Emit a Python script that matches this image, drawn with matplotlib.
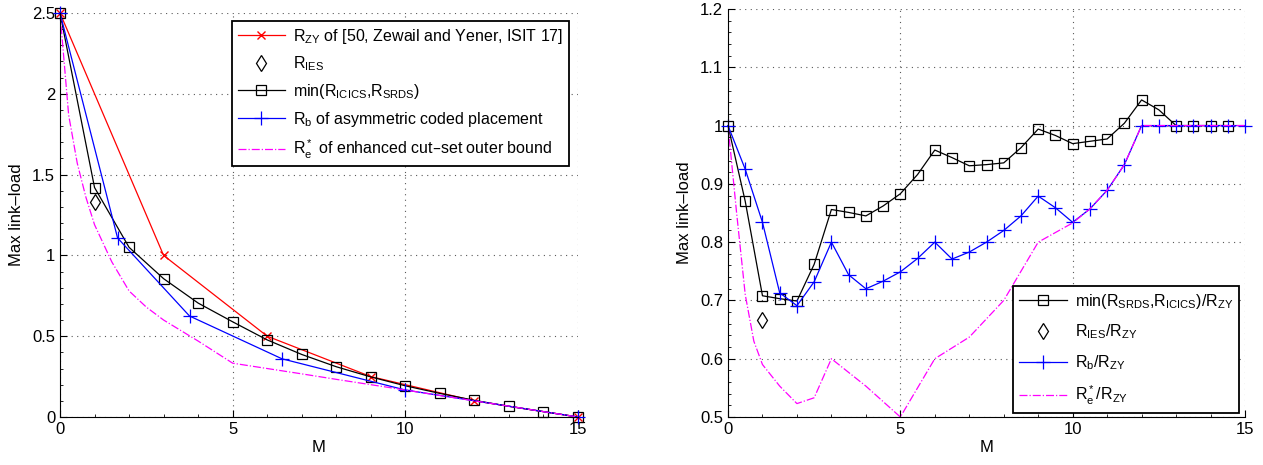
import matplotlib
matplotlib.use('Agg')
import matplotlib.pyplot as plt
from matplotlib.ticker import MultipleLocator, FuncFormatter

plt.rcParams['font.family'] = ['Liberation Sans', 'DejaVu Sans']
plt.rcParams['mathtext.default'] = 'regular'
plt.rcParams['font.size'] = 12

# left panel: max link-load
zy_x = [0, 3, 6, 9, 12, 15]
zy_y = [2.5, 1.0, 0.5, 0.25, 0.1, 0]
ies_x = [1]
ies_y = [1.333]
min_x = [0, 1, 2, 3, 4, 5, 6, 7, 8, 9, 10, 11, 12, 13, 14, 15]
min_y = [2.5, 1.42, 1.05, 0.856, 0.705, 0.589, 0.477, 0.387, 0.311, 0.248,
         0.193, 0.146, 0.103, 0.066, 0.033, 0]
b_x = [0, 1.667, 3.75, 6.43, 10, 15]
b_y = [2.5, 1.108, 0.625, 0.36, 0.167, 0]
e_x = [0, 0.25, 0.5, 0.75, 1, 1.5, 2, 2.5, 3, 4, 5, 6, 7, 8, 9, 10, 11, 12, 13, 14, 15]
e_y = [2.5, 1.87, 1.57, 1.36, 1.19, 0.96, 0.78, 0.68, 0.6, 0.47, 0.333, 0.3,
       0.267, 0.233, 0.2, 0.167, 0.133, 0.1, 0.067, 0.033, 0]

# right panel: ratios to R_ZY
rmin_x = [0, 0.5, 1, 1.5, 2, 2.5, 3, 3.5, 4, 4.5, 5, 5.5, 6, 6.5, 7, 7.5, 8, 8.5,
          9, 9.5, 10, 10.5, 11, 11.5, 12, 12.5, 13, 13.5, 14, 14.5]
rmin_y = [1.0, 0.870, 0.708, 0.703, 0.699, 0.762, 0.856, 0.851, 0.845, 0.862,
          0.883, 0.916, 0.958, 0.945, 0.931, 0.933, 0.936, 0.962, 0.994, 0.983,
          0.969, 0.973, 0.977, 1.004, 1.044, 1.027, 1.0, 1.0, 1.0, 1.0]
ries_x = [1]
ries_y = [0.667]
rb_x = [0, 0.5, 1, 1.5, 2, 2.5, 3, 3.5, 4, 4.5, 5, 5.5, 6, 6.5, 7, 7.5, 8, 8.5,
        9, 9.5, 10, 10.5, 11, 11.5, 12, 12.5, 13, 13.5, 14, 14.5, 15]
rb_y = [1.0, 0.925, 0.834, 0.713, 0.691, 0.732, 0.8, 0.744, 0.72, 0.733, 0.749,
        0.772, 0.8, 0.771, 0.783, 0.8, 0.82, 0.845, 0.879, 0.859, 0.834, 0.857,
        0.889, 0.933, 1.0, 1.0, 1.0, 1.0, 1.0, 1.0, 1.0]
re_x = [0, 0.25, 0.5, 0.75, 1, 1.5, 2, 2.5, 3, 4, 5, 6, 7, 8, 9, 10, 10.5, 11,
        11.5, 12, 13, 14, 15]
re_y = [1.0, 0.85, 0.71, 0.63, 0.59, 0.553, 0.523, 0.533, 0.6, 0.553, 0.5, 0.6,
        0.637, 0.7, 0.8, 0.833, 0.857, 0.889, 0.933, 1.0, 1.0, 1.0, 1.0]

W, H = 1263, 465
fig = plt.figure(figsize=(W / 100, H / 100), dpi=100)
ax1 = fig.add_axes([60 / W, (H - 417) / H, 518 / W, 404 / H])
ax2 = fig.add_axes([728 / W, (H - 417) / H, 517 / W, 408 / H])

lw = 0.9
mk = dict(markerfacecolor='none', markeredgewidth=0.9, clip_on=False)

ax1.plot(zy_x, zy_y, 'r-', marker='x', ms=6, lw=lw, clip_on=False,
         label=r'R$_{ZY}$ of [50, Zewail and Yener, ISIT 17]')
ax1.plot(ies_x, ies_y, 'kd', ms=8, ls='none', label=r'R$_{IES}$', **mk)
ax1.plot(min_x, min_y, 'k-', marker='s', ms=7, lw=lw,
         label=r'min(R$_{ICICS}$,R$_{SRDS}$)', **mk)
ax1.plot(b_x, b_y, 'b-', marker='+', ms=10, lw=lw,
         label=r'R$_b$ of asymmetric coded placement', **mk)
ax1.plot(e_x, e_y, color='magenta', ls='-.', lw=lw,
         label=r'R$_e^*$ of enhanced cut–set outer bound')

ax2.plot(rmin_x, rmin_y, 'k-', marker='s', ms=7, lw=lw,
         label=r'min(R$_{SRDS}$,R$_{ICICS}$)/R$_{ZY}$', **mk)
ax2.plot(ries_x, ries_y, 'kd', ms=8, ls='none', label=r'R$_{IES}$/R$_{ZY}$', **mk)
ax2.plot(rb_x, rb_y, 'b-', marker='+', ms=10, lw=lw, label=r'R$_b$/R$_{ZY}$', **mk)
ax2.plot(re_x, re_y, color='magenta', ls='-.', lw=lw, label=r'R$_e^*$/R$_{ZY}$')

fmt = FuncFormatter(lambda v, p: '%g' % round(v, 3))
for ax in (ax1, ax2):
    ax.set_xlim(0, 15)
    ax.xaxis.set_major_locator(MultipleLocator(5))
    ax.xaxis.set_minor_locator(MultipleLocator(1))
    ax.yaxis.set_major_formatter(fmt)
    ax.grid(True, which='major', color='0.35', ls=(0, (1, 4)), lw=0.8)
    ax.spines['top'].set_visible(False)
    ax.spines['right'].set_visible(False)
    ax.tick_params(which='both', direction='in', labelsize=12)
    ax.tick_params(which='major', length=5)
    ax.tick_params(which='minor', length=2.5)
    ax.set_xlabel('M', fontsize=12, labelpad=2)
    ax.set_ylabel('Max link–load', fontsize=12, labelpad=6)

ax1.set_ylim(0, 2.5)
ax1.yaxis.set_major_locator(MultipleLocator(0.5))
ax1.yaxis.set_minor_locator(MultipleLocator(0.1))
ax2.set_ylim(0.5, 1.2)
ax2.yaxis.set_major_locator(MultipleLocator(0.1))
ax2.yaxis.set_minor_locator(MultipleLocator(0.02))

leg_kw = dict(numpoints=1, fancybox=False, framealpha=1, edgecolor='black',
              borderaxespad=0, handlelength=3, handletextpad=0.5,
              fontsize=11.5, borderpad=0.35)
l1 = ax1.legend(loc='upper right', bbox_to_anchor=(0.983, 0.98),
                labelspacing=0.55, **leg_kw)
l2 = ax2.legend(loc='lower right', bbox_to_anchor=(0.988, 0.01),
                labelspacing=0.75, **leg_kw)
for lg in (l1, l2):
    lg.get_frame().set_linewidth(1.3)

fig.savefig('out.png', dpi=100)
